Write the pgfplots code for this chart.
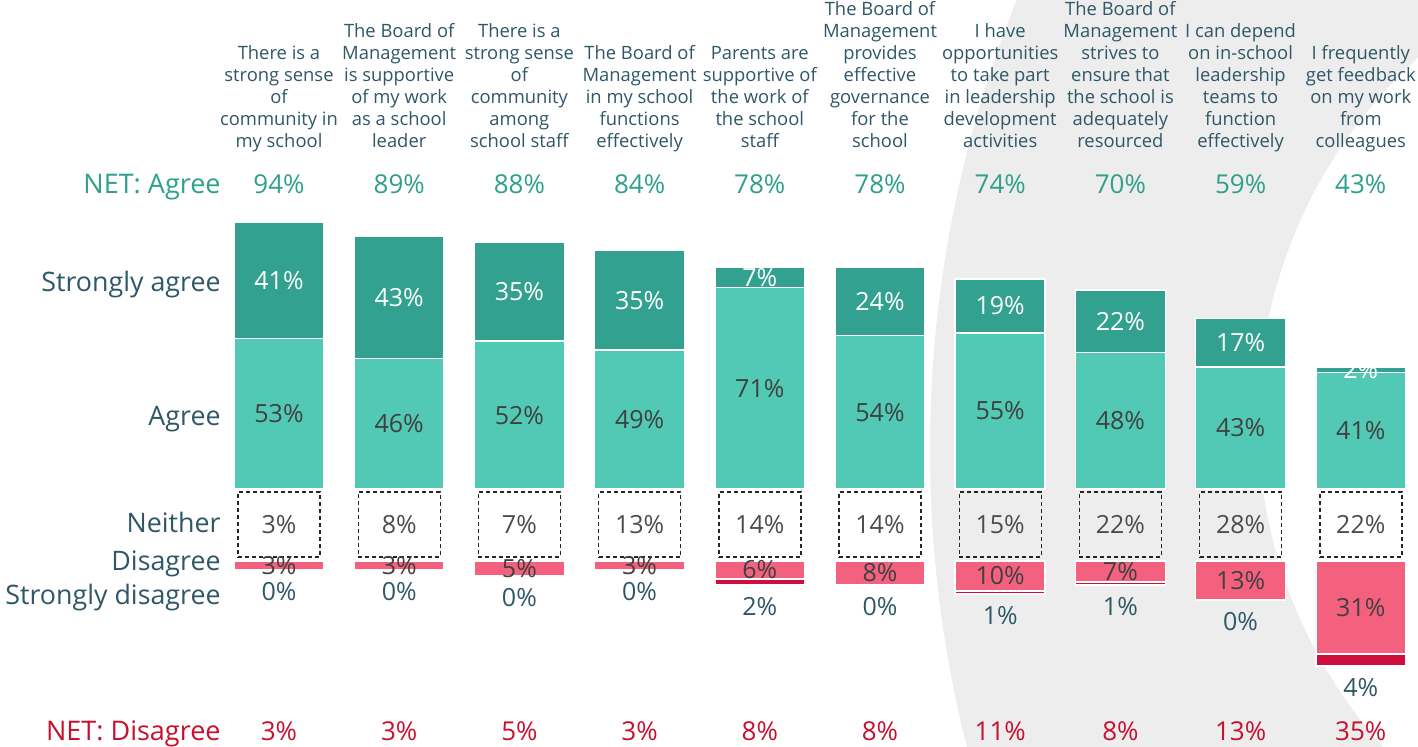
\documentclass[border=0pt]{standalone}
\usepackage{fontspec}
\setmainfont{Open Sans}
\usepackage{pgfplots}
\usepackage{pgfplotstable}
\pgfplotsset{compat=1.18}

\definecolor{sagree}{HTML}{33A18F}
\definecolor{agree}{HTML}{52C9B4}
\definecolor{disag}{HTML}{F4617F}
\definecolor{sdisag}{HTML}{CE0E3B}
\definecolor{lbl}{HTML}{2F5767}
\definecolor{netg}{HTML}{2EA08B}
\definecolor{netr}{HTML}{C8102E}
\definecolor{val}{HTML}{404040}
\definecolor{ring}{HTML}{EDEDED}

% a = agree, sa = strongly agree, n = neither, d = disagree,
% s = strongly disagree, na / nd = NET agree / NET disagree
\pgfplotstableread{
x a  sa n  d  s na nd
0 53 41 3  3  0 94 3
1 46 43 8  3  0 89 3
2 52 35 7  5  0 88 5
3 49 35 13 3  0 84 3
4 71 7  14 6  2 78 8
5 54 24 14 8  0 78 8
6 55 19 15 10 1 74 11
7 48 22 22 7  1 70 8
8 43 17 28 13 0 59 13
9 41 2  22 31 4 43 35
}\survey

\newcommand\valfont{\fontsize{12.5}{15}\selectfont}
\newcommand\sidefont{\fontsize{13.4}{16}\selectfont}

\pgfplotsset{
  /pgf/number format/assume math mode=true,
  base/.style={width=709pt, height=373.5pt, scale only axis, hide axis,
    xmin=-2.3211, xmax=9.4759, at={(0,0)}, anchor=south west},
  scA/.style={ymin=-90.85, ymax=172.18},
  scB/.style={ymin=-62, ymax=187},
  seg/.style={draw=white, line width=0.8pt},
  lab/.style={only marks, mark=*, mark size=0pt,
    mark options={draw=none, fill=none},
    nodes near coords={\pgfmathprintnumber{\pgfplotspointmeta}\%},
    every node near coord/.append style={anchor=center, font=\valfont, inner sep=0pt}},
}
\tikzset{
  toplab/.style={anchor=south, align=center, inner sep=0pt, text=lbl,
    font=\fontsize{9.2}{11}\selectfont},
  side/.style={anchor=base east, inner sep=0pt, text=lbl, font=\sidefont},
}

\begin{document}
\begin{tikzpicture}
% background ring
\begin{scope}
  \clip (0,0) rectangle (709pt,373.5pt);
  \fill[ring, even odd rule, overlay] (1068.5pt,148.5pt) circle[radius=603.5pt]
    (874pt,163.5pt) circle[radius=245pt];
\end{scope}

% agree bars
\begin{axis}[base, scA, ybar stacked, bar width=45pt]
  \addplot[seg, fill=agree] table[x=x, y=a] {\survey};
  \addplot[seg, fill=sagree] table[x=x, y=sa] {\survey};
\end{axis}

% neither box
\begin{axis}[base, scB, ybar stacked, bar width=41pt]
  \addplot[draw=none, fill=none] table[x=x, y expr=1.33] {\survey};
  \addplot[draw=black!85, fill=none, line width=0.7pt, dash pattern=on 2pt off 1.5pt]
    table[x=x, y expr=21.67] {\survey};
\end{axis}

% disagree bars, stacked downwards
\begin{axis}[base, scB, ybar stacked, bar width=45pt]
  \addplot[seg, fill=disag] table[x=x, y expr=-\thisrow{d}] {\survey};
  \addplot[seg, fill=sdisag] table[x=x, y expr=-\thisrow{s}] {\survey};
\end{axis}

% labels, upper scale
\begin{axis}[base, scA, clip=false]
  \addplot[lab, point meta=\thisrow{sa}, every node near coord/.append style={text=white}]
    table[x=x, y expr=\thisrow{a}+0.5*\thisrow{sa}] {\survey};
  \addplot[lab, point meta=\thisrow{a}, every node near coord/.append style={text=val}]
    table[x=x, y expr=0.5*\thisrow{a}] {\survey};
  \addplot[lab, point meta=\thisrow{na},
    every node near coord/.append style={anchor=base, text=netg, font=\fontsize{13}{15}\selectfont}]
    table[x=x, y expr=104.2] {\survey};
  \addplot[lab, point meta=\thisrow{nd},
    every node near coord/.append style={anchor=base, text=netr, font=\fontsize{13}{15}\selectfont}]
    table[x=x, y expr=-88.73] {\survey};

  \node[side, text=netg, font=\fontsize{13.5}{16}\selectfont] at (axis cs:-0.4825,104.2) {NET: Agree};
  \node[side] at (axis cs:-0.4825,69.7) {Strongly agree};
  \node[side] at (axis cs:-0.4825,22.18) {Agree};
  \node[side] at (axis cs:-0.4825,-15.49) {Neither};
  \node[side] at (axis cs:-0.4825,-28.87) {Disagree};
  \node[side] at (axis cs:-0.4825,-40.85) {Strongly disagree};
  \node[side, text=netr, font=\fontsize{13.5}{16}\selectfont] at (axis cs:-0.4825,-88.73) {NET: Disagree};

  \node[toplab] at (axis cs:0,117.75) {There is a\\strong sense\\of\\community in\\my school\strut};
  \node[toplab] at (axis cs:1,117.75) {The Board of\\Management\\is supportive\\of my work\\as a school\\leader\strut};
  \node[toplab] at (axis cs:2,117.75) {There is a\\strong sense\\of\\community\\among\\school staff\strut};
  \node[toplab] at (axis cs:3,117.75) {The Board of\\Management\\in my school\\functions\\effectively\strut};
  \node[toplab] at (axis cs:4,117.75) {Parents are\\supportive of\\the work of\\the school\\staff\strut};
  \node[toplab] at (axis cs:5,117.75) {The Board of\\Management\\provides\\effective\\governance\\for the\\school\strut};
  \node[toplab] at (axis cs:6,117.75) {I have\\opportunities\\to take part\\in leadership\\development\\activities\strut};
  \node[toplab] at (axis cs:7,117.75) {The Board of\\Management\\strives to\\ensure that\\the school is\\adequately\\resourced\strut};
  \node[toplab] at (axis cs:8,117.75) {I can depend\\on in-school\\leadership\\teams to\\function\\effectively\strut};
  \node[toplab] at (axis cs:9,117.75) {I frequently\\get feedback\\on my work\\from\\colleagues\strut};
\end{axis}

% labels, lower scale
\begin{axis}[base, scB, clip=false]
  \addplot[lab, point meta=\thisrow{n}, every node near coord/.append style={text=black!70}]
    table[x=x, y expr=12.17] {\survey};
  \addplot[lab, point meta=\thisrow{d}, every node near coord/.append style={text=val}]
    table[x=x, y expr=-0.5*\thisrow{d}] {\survey};
  \addplot[lab, point meta=\thisrow{s},
    every node near coord/.append style={anchor=north, yshift=-6pt, text=lbl}]
    table[x=x, y expr=-\thisrow{d}-\thisrow{s}] {\survey};
\end{axis}

\pgfresetboundingbox
\useasboundingbox (0,0) rectangle (709pt,373.5pt);
\end{tikzpicture}
\end{document}
